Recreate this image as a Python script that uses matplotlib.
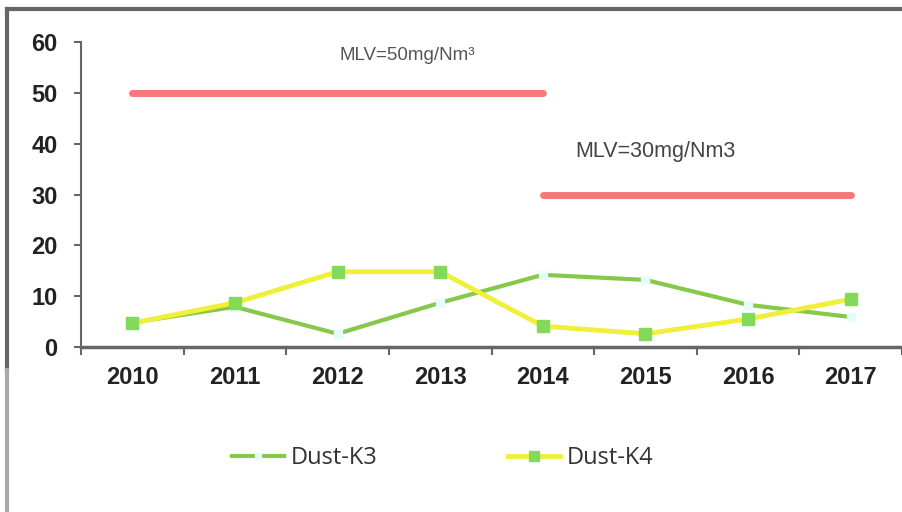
import matplotlib
matplotlib.use("Agg")
import matplotlib.pyplot as plt
from matplotlib.lines import Line2D
import numpy as np

# DATA
years = ["2010", "2011", "2012", "2013", "2014", "2015", "2016", "2017"]
dust_k3 = [4.8, 7.9, 2.6, 8.7, 14.2, 13.2, 8.3, 5.9]
dust_k4 = [4.7, 8.7, 14.8, 14.8, 4.1, 2.6, 5.5, 9.4]
mlv_old = 50   # 2010-2014
mlv_new = 30   # 2014-2017
mlv_old_span = ["2010", "2014"]
mlv_new_span = ["2014", "2017"]

x = np.arange(len(years))

fig = plt.figure(figsize=(9.02, 5.12), dpi=100)
ax = fig.add_axes([81/902, 1-347/512, 821/902, 305/512])

# limit lines
i0, i1 = years.index(mlv_old_span[0]), years.index(mlv_old_span[1])
ax.plot([x[i0], x[i1]], [mlv_old, mlv_old], color="#f77878", lw=5, solid_capstyle="round")
j0, j1 = years.index(mlv_new_span[0]), years.index(mlv_new_span[1])
ax.plot([x[j0], x[j1]], [mlv_new, mlv_new], color="#f77878", lw=5, solid_capstyle="round")

ax.text(2.68, 57.4, "MLV=50mg/Nm³", fontsize=13.5, color="#555555",
        family="Liberation Sans", ha="center", va="center")
ax.text(5.1, 38.5, "MLV=30mg/Nm3", fontsize=15.5, color="#444444",
        family="Liberation Sans", ha="center", va="center")

# series
ax.plot(x, dust_k3, color="#86c84a", lw=3, marker="s", ms=6,
        mfc="#e6fbfb", mec="#e6fbfb", label="Dust-K3")
ax.plot(x, dust_k4, color="#f0ef3c", lw=3.5, marker="s", ms=9,
        mfc="#83d958", mec="#83d958", label="Dust-K4", zorder=3)

ax.set_xlim(-0.5, len(years) - 0.5)
ax.set_ylim(0, 60)
ax.set_yticks(np.arange(0, 61, 10))
ax.set_xticks(x)
ax.set_xticklabels(years)
ax.set_xticks(np.arange(-0.5, len(years) - 0.4, 1), minor=True)
ax.tick_params(axis="x", which="major", length=0, pad=14)
ax.tick_params(axis="x", which="minor", length=6, width=1.5, color="#666666")
ax.tick_params(axis="y", length=5, width=1.5, color="#666666", pad=12)
for lab in ax.get_xticklabels() + ax.get_yticklabels():
    lab.set_fontfamily("Liberation Sans")
    lab.set_fontweight("bold")
    lab.set_fontsize(17)
    lab.set_color("#222222")

for s in ["top", "right"]:
    ax.spines[s].set_visible(False)
ax.spines["left"].set_color("#666666")
ax.spines["left"].set_linewidth(1.5)
ax.spines["bottom"].set_color("#666666")
ax.spines["bottom"].set_linewidth(2.5)

leg = ax.legend(loc="center", bbox_to_anchor=(0.491, 0.105), bbox_transform=fig.transFigure,
                ncol=2, frameon=False, handlelength=2.2, handletextpad=0.3, markerscale=0.75,
                columnspacing=5.5, prop={"family": "Open Sans", "size": 17})
for t in leg.get_texts():
    t.set_color("#333333")

# outer frame of the original image
fig.add_artist(Line2D([7/902, 1], [1-9/512, 1-9/512], color="#666666", lw=3, transform=fig.transFigure))
fig.add_artist(Line2D([7/902, 7/902], [1-9/512, 1-370/512], color="#666666", lw=3, transform=fig.transFigure))
fig.add_artist(Line2D([7/902, 7/902], [1-370/512, 0], color="#aaaaaa", lw=3, transform=fig.transFigure))

fig.savefig("out.png", dpi=100)
